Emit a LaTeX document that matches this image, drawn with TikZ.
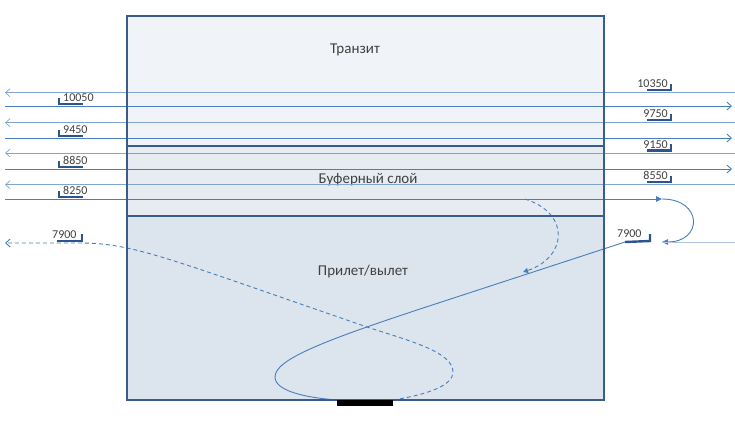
\documentclass[tikz,border=0pt]{standalone}
\usepackage{fontspec}
\setmainfont{Carlito}
\usetikzlibrary{calc,positioning,arrows.meta}
\definecolor{routeblue}{HTML}{4A7EBB}
\definecolor{boxedge}{HTML}{385D8A}
\definecolor{flmark}{HTML}{2C5490}
\definecolor{txtgray}{HTML}{404040}
\definecolor{fillA}{HTML}{F0F3F7}
\definecolor{fillB}{HTML}{E7ECF2}
\definecolor{fillC}{HTML}{DCE4ED}

\begin{document}
\begin{tikzpicture}[x=1pt,y=-1pt,
    eastln/.style={routeblue,line width=0.9pt},
    westln/.style={routeblue!70,line width=0.7pt},
    flbar/.style={flmark,line width=2.4pt},
    lvl/.style={txtgray,font=\fontsize{12}{12}\selectfont,inner sep=0pt},
    zone/.style={txtgray,font=\fontsize{15}{15}\selectfont},
    dashln/.style={dash pattern=on 4pt off 3pt},
    openl/.style={-{Straight Barb[length=4.5pt,width=8pt]}},
    filltip/.style={-{Triangle[length=6pt,width=5.5pt]}}]
  \useasboundingbox (0,0) rectangle (735,420);
  \pgfmathsetmacro{\xL}{127}
  \pgfmathsetmacro{\xR}{604}

  % zones of the airspace
  \coordinate (b0) at (\xL,16);
  \coordinate (b1) at (\xR,400);
  \fill[fillA] (b0) rectangle (\xR,146);
  \fill[fillB] (\xL,146) rectangle (\xR,216);
  \fill[fillC] (\xL,216) rectangle (b1);
  \node[zone] (tr) at (355,50) {Транзит};
  \node[zone] (bf) at (368,180) {Буферный слой};
  \node[zone] (pv) at (363,271) {Прилет/вылет};

  % westbound levels
  \foreach \yy/\lvl [count=\i] in {92.7/10350,122.7/9750,153/9150,184.7/8550}{
    \coordinate (we\i) at (735,\yy);
    \coordinate (ww\i) at (5,\yy);
    \draw[westln,openl] (we\i) -- (ww\i);
    \draw[flbar] (647,\yy-2.5) -- (671,\yy-2.5) -- (671,\yy-9);
    \node[lvl,anchor=base east] (wl\i) at (668,\yy-5) {\lvl};
  }
  % eastbound levels
  \foreach \yy/\lvl [count=\i] in {106/10050,138/9450,169/8850,199/8250}{
    \coordinate (ew\i) at (5,\yy);
    \draw[flbar] (59,\yy-8) -- (59,\yy-2) -- (83,\yy-2);
    \node[lvl,anchor=base west] (el\i) at (63,\yy-4.5) {\lvl};
  }
  \foreach \i/\yy in {1/106,2/138,3/169}{
    \coordinate (ee\i) at (732,\yy);
    \draw[eastln,openl] (ew\i) -- (ee\i);
  }
  \coordinate (t82) at (662,199);
  \coordinate (t79) at (662,242);
  \coordinate (in79) at (735,242);
  \draw[eastln,filltip] (ew4) -- (t82);
  \draw[eastln,filltip] (t82) .. controls (703,199) and (703,242) .. (t79);
  \draw[routeblue!45,line width=0.9pt] (in79) -- (t79);

  % arrival
  \coordinate (r79) at (625,242);
  \coordinate (rw0) at (337,400);
  \coordinate (rw1) at (393,400);
  \coordinate (xc) at (367,327);
  \draw[flbar] (r79) -- (650,241) -- (650,234);
  \node[lvl,anchor=base west] (rl) at (617,237.5) {7900};
  \draw[eastln] (r79) -- (420,309) .. controls (320,342) and (275,360) .. (275,377)
    .. controls (275,392) and (310,398) .. (rw0);
  % short cut from the buffer
  \coordinate (sc0) at (525,199);
  \coordinate (sc1) at (523,272);
  \draw[eastln,dashln,-{Triangle[length=5pt,width=5pt]}] (sc0) .. controls (572,214) and (566,258) .. (sc1);

  % departure
  \coordinate (dep) at (5,243);
  \draw[eastln,dashln,openl] (rw1) .. controls (430,394) and (453,385) .. (453,372)
    .. controls (453,352) and (410,341) .. (xc) -- (240,283)
    .. controls (150,252) and (120,243) .. (80,243) -- (dep);
  \draw[flbar] (57,241) -- (82,241) -- (82,234);
  \node[lvl,anchor=base west] (ll) at (52,238) {7900};

  % borders
  \draw[boxedge,line width=1.6pt] (\xL,146) -- (\xR,146) (\xL,216) -- (\xR,216);
  \draw[boxedge,line width=1.6pt] (b0) rectangle (b1);
  \fill (rw0) rectangle ($(rw1)+(0,6)$);
\end{tikzpicture}
\end{document}
